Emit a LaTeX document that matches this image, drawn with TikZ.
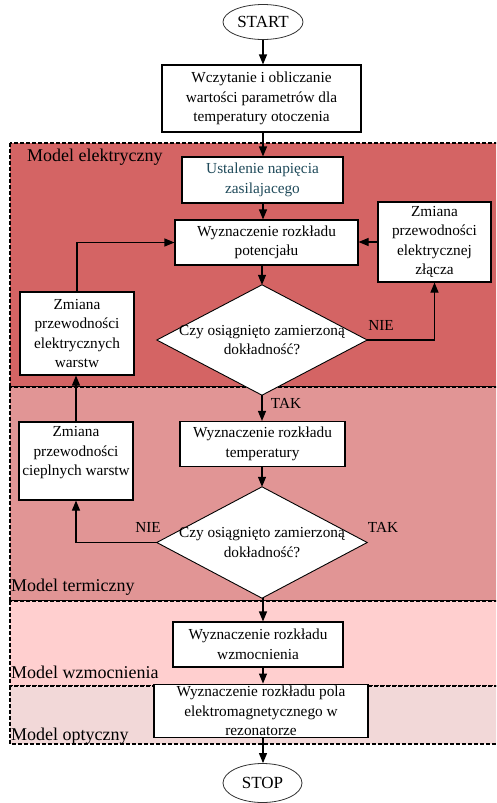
\documentclass[tikz,border=0pt]{standalone}
\usepackage{fontspec}
\setmainfont{Liberation Serif}
\usetikzlibrary{shapes.geometric,arrows.meta}
\definecolor{relek}{HTML}{D46464}
\definecolor{rterm}{HTML}{E19595}
\definecolor{rwzm}{HTML}{FFCFCF}
\definecolor{ropt}{HTML}{F2D8D8}
\definecolor{tealtxt}{HTML}{1F4A5A}
\begin{document}
\begin{tikzpicture}[x=1pt,y=-1pt,
  every node/.style={font=\fontsize{15.3}{19.5}\selectfont},
  box/.style={draw=black,line width=1.1pt,fill=white,align=center,inner sep=2pt},
  term/.style={draw=black!80,line width=0.8pt,ellipse,fill=white,inner sep=0pt,font=\fontsize{17}{20}\selectfont},
  dec/.style={rectangle,inner sep=0pt,align=center,minimum width=210,minimum height=110},
  decline/.style={draw=black,line width=0.9pt,fill=white},
  region/.style={draw=black,line width=1.5pt,dash pattern=on 4pt off 2pt},
  arr/.style={line width=1.1pt,-{Triangle[length=10pt,width=8pt]}},
  lbl/.style={font=\fontsize{18}{20}\selectfont,anchor=west,inner sep=0pt},
  yn/.style={inner sep=0pt},
]
\useasboundingbox (0,0) rectangle (496,803);
\clip (0,0) rectangle (496,803);
% regions
\draw[region,fill=relek] (10,143) rectangle (505,387);
\draw[region,fill=rterm] (10,387) rectangle (505,601);
\draw[region,fill=rwzm] (10,601) rectangle (505,686);
\draw[region,fill=ropt] (10,686) rectangle (505,744);
\node[lbl] (l1) at (27,157) {Model elektryczny};
\node[lbl] (l2) at (11,587) {Model termiczny};
\node[lbl] (l3) at (11,672) {Model wzmocnienia};
\node[lbl] (l4) at (11,736) {Model optyczny};
% nodes
\node[term,minimum width=80,minimum height=35] (start) at (263,22) {START};
\node[box,minimum width=199,minimum height=67] (b1) at (261.5,98.5) {Wczytanie i obliczanie\\wartości parametrów dla\\temperatury otoczenia};
\node[box,minimum width=161,minimum height=46,text=tealtxt] (ust) at (262.5,180) {Ustalenie napięcia\\zasilajacego};
\node[box,minimum width=183,minimum height=45] (pot) at (266.5,242.5) {Wyznaczenie rozkładu\\potencjału};
\node[dec] (dia1) at (262,340) {};
\draw[decline] (dia1.north) -- (dia1.east) -- (dia1.south) -- (dia1.west) -- cycle;
\node[align=center,inner sep=0pt] (q1) at (dia1.center) {Czy osiągnięto zamierzoną\\dokładność?};
\node[box,minimum width=113,minimum height=80] (rbox) at (434.5,242) {Zmiana\\przewodności\\elektrycznej\\złącza};
\node[box,minimum width=114,minimum height=83] (lbox) at (77,333.5) {Zmiana\\przewodności\\elektrycznych\\warstw};
\node[box,minimum width=165,minimum height=45] (temp) at (262.5,444) {Wyznaczenie rozkładu\\temperatury};
\node[box,minimum width=114,minimum height=78] (lbox2) at (76,461) {Zmiana\\przewodności\\cieplnych warstw\\\mbox{}};
\node[dec,minimum height=111] (dia2) at (262,542.5) {};
\draw[decline] (dia2.north) -- (dia2.east) -- (dia2.south) -- (dia2.west) -- cycle;
\node[align=center,inner sep=0pt] (q2) at (dia2.center) {Czy osiągnięto zamierzoną\\dokładność?};
\node[box,minimum width=170,minimum height=45] (wzm) at (258,644.5) {Wyznaczenie rozkładu\\wzmocnienia};
\node[box,minimum width=214,minimum height=52] (pola) at (261,711) {Wyznaczenie rozkładu pola\\elektromagnetycznego w\\rezonatorze};
\node[term,minimum width=79,minimum height=39] (stop) at (262.5,783) {STOP};
\coordinate (ax) at (263,0);
% labels
\node[yn] (nie1) at (381,325) {NIE};
\node[yn] (tak1) at (286,403) {TAK};
\node[yn] (nie2) at (148,527) {NIE};
\node[yn] (tak2) at (383,527) {TAK};
% arrows
\draw[arr] (start.south -| ax) -- (b1.north -| ax);
\draw[arr] (b1.south -| ax) -- (ust.north -| ax);
\draw[arr] (ust.south -| ax) -- (pot.north -| ax);
\draw[arr] (pot.south -| dia1.north) -- (dia1.north);
\draw[arr] (lbox.north) |- (pot.west);
\draw[arr] (rbox.west) -- (rbox.west -| pot.east);
\draw[arr] (dia1.east) -| (rbox.south);
\draw[arr] (dia1.south) -- (temp.north -| dia1.south);
\draw[arr] (lbox2.north) -- (lbox2.north |- lbox.south);
\draw[arr] (temp.south -| dia2.north) -- (dia2.north);
\draw[arr] (dia2.west) -| (lbox2.south);
\draw[arr] (dia2.south -| ax) -- (wzm.north -| ax);
\draw[arr] (wzm.south -| ax) -- (pola.north -| ax);
\draw[arr] (pola.south -| ax) -- (stop.north -| ax);
\end{tikzpicture}
\end{document}
